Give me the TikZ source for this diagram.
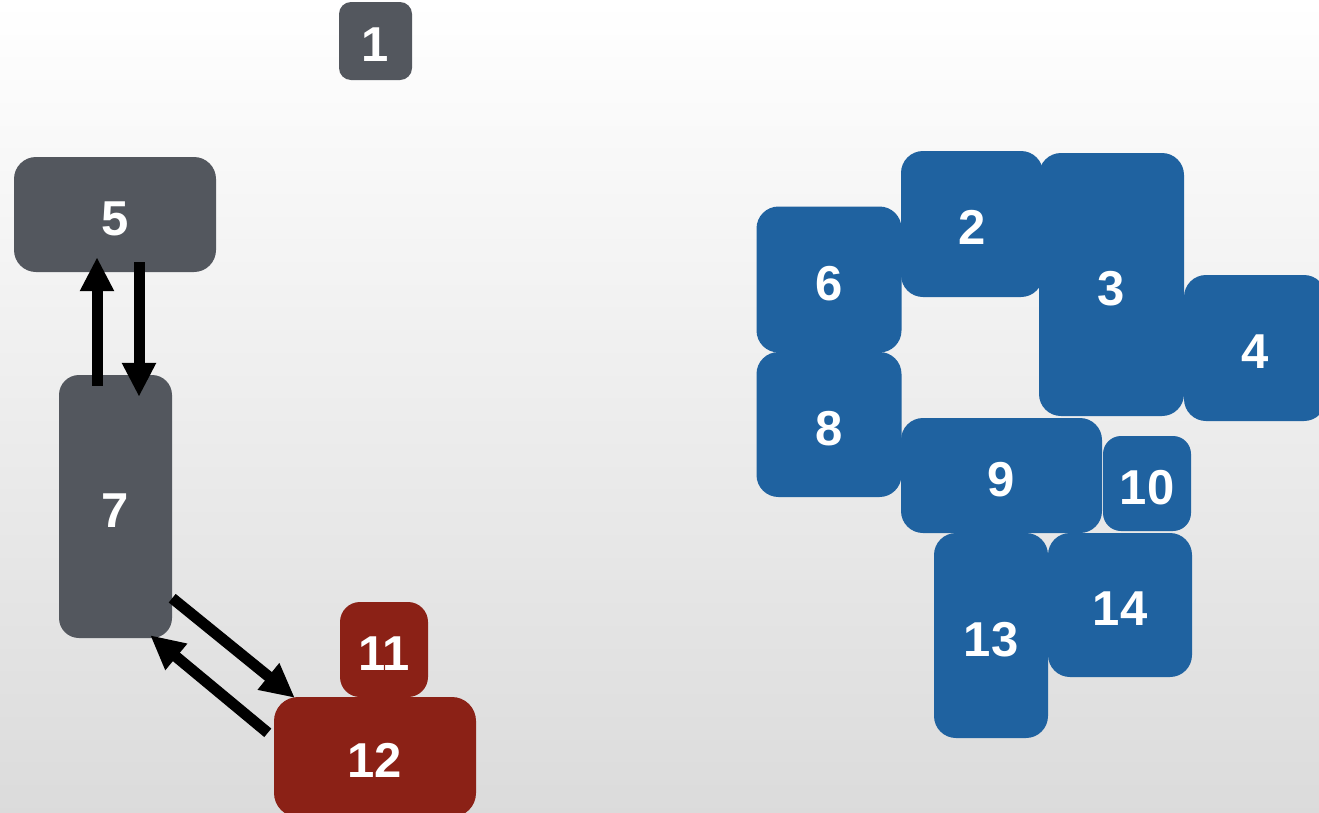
\documentclass[tikz,border=0pt]{standalone}
\usepackage{fontspec}
\setmainfont{Liberation Sans}
\usetikzlibrary{arrows.meta}

\definecolor{slate}{HTML}{53575E}
\definecolor{brick}{HTML}{8B2116}
\definecolor{steel}{HTML}{1F62A0}

\begin{document}
\begin{tikzpicture}[
    x=1pt, y=-1pt,
    box/.style={rectangle, rounded corners=22pt, inner sep=0pt, text=white, text height=41pt, text depth=0pt, font=\fontsize{49}{52}\selectfont\bfseries},
    greybox/.style={box, fill=slate},
    redbox/.style={box, fill=brick},
    bluebox/.style={box, fill=steel},
    flow/.style={draw=black, line width=11pt, -{Triangle[length=34pt, width=32pt]}}
]
\clip (0,0) rectangle (1319,812);
\shade[top color=white, bottom color=black!14] (0,0) rectangle (1319,812);

% grey group
\node[greybox, rounded corners=12pt, minimum width=73pt, minimum height=78pt] (box1) at (375.5,41) {1};
\node[greybox, minimum width=202pt, minimum height=115pt] (box5) at (115,214.5) {5};
\node[greybox, rounded corners=20pt, minimum width=113pt, minimum height=263pt] (box7) at (115.5,506.5) {7};

% red group
\node[redbox, rounded corners=20pt, minimum width=88pt, minimum height=95pt] (box11) at (384,649.5) {11};
\node[redbox, rounded corners=24pt, minimum width=202pt, minimum height=120pt] (box12) at (375,757) {12};

% blue group
\node[bluebox, minimum width=145pt, minimum height=146pt] (box6) at (829,279.5) {6};
\node[bluebox, minimum width=142pt, minimum height=146pt] (box2) at (972,224) {2};
\node[bluebox, minimum width=145pt, minimum height=263pt] (box3) at (1111.5,284.5) {3};
\node[bluebox, minimum width=142pt, minimum height=146pt] (box4) at (1255,348) {4};
\node[bluebox, minimum width=145pt, minimum height=145pt] (box8) at (829,424.5) {8};
\node[bluebox, minimum width=201pt, minimum height=115pt] (box9) at (1001.5,475.5) {9};
\node[bluebox, rounded corners=18pt, minimum width=88pt, minimum height=95pt] (box10) at (1147,483.5) {10};
\node[bluebox, minimum width=114pt, minimum height=205pt] (box13) at (991,635.5) {13};
\node[bluebox, minimum width=144pt, minimum height=144pt] (box14) at (1120,605) {14};

% arrows
\draw[flow] ([xshift=-18.5pt, yshift=-11pt]box7.north) -- ([xshift=-18pt, yshift=15pt]box5.south);
\draw[flow] ([xshift=24pt, yshift=10pt]box5.south) -- ([xshift=23.5pt, yshift=-22pt]box7.north);
\draw[flow] ([yshift=40pt]box7.south east) -- ([xshift=21pt, yshift=-1pt]box12.north west);
\draw[flow] ([xshift=-6pt, yshift=-36pt]box12.north west) -- ([xshift=-22pt, yshift=3pt]box7.south east);
\end{tikzpicture}
\end{document}
